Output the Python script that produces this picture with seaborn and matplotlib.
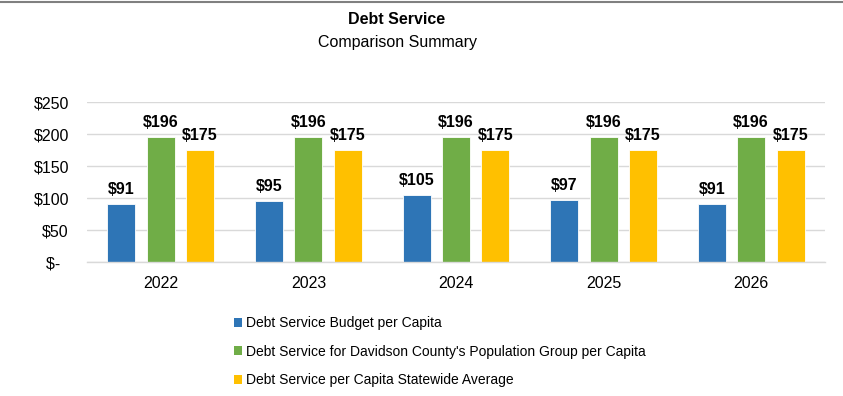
import matplotlib
matplotlib.use("Agg")
import matplotlib.pyplot as plt
import matplotlib.patches as mpatches
from matplotlib.lines import Line2D
import pandas as pd
import seaborn as sns

years = ["2022", "2023", "2024", "2025", "2026"]
series_names = [
    "Debt Service Budget per Capita",
    "Debt Service for Davidson County's Population Group per Capita",
    "Debt Service per Capita Statewide Average",
]
budget_per_capita = [91, 95, 105, 97, 91]
population_group = [196, 196, 196, 196, 196]
statewide_average = [175, 175, 175, 175, 175]
y_ticks = [0, 50, 100, 150, 200, 250]
y_tick_labels = ["$-  ", "$50", "$100", "$150", "$200", "$250"]
colors = ["#2E75B6", "#70AD47", "#FFC000"]

df = pd.DataFrame({
    "year": years * 3,
    "series": [series_names[0]] * 5 + [series_names[1]] * 5 + [series_names[2]] * 5,
    "value": budget_per_capita + population_group + statewide_average,
})

sns.set_theme(style="white")
plt.rcParams["font.family"] = ["Liberation Sans", "DejaVu Sans"]
plt.rcParams["text.color"] = "black"

fig = plt.figure(figsize=(8.43, 3.96), dpi=100)
ax = fig.add_axes([87 / 843, 1 - 262 / 396, (825 - 87) / 843, 160 / 396])

sns.barplot(data=df, x="year", y="value", hue="series", hue_order=series_names,
            palette=colors, width=0.8, gap=0.29, ax=ax, legend=False,
            edgecolor="white", linewidth=0.6, saturation=1)

for cont in ax.containers:
    vals = [b.get_height() for b in cont]
    ax.bar_label(cont, labels=[f"${v:.0f}" for v in vals], padding=5,
                 fontsize=11.5, fontweight="bold", color="black")

ax.set_ylim(0, 250)
ax.set_xlim(-0.5, 4.5)
ax.set_yticks(y_ticks)
ax.set_yticklabels(y_tick_labels)
ax.set_xlabel("")
ax.set_ylabel("")
ax.grid(axis="y", color="#D9D9D9", linewidth=1)
ax.set_axisbelow(True)
for side in ["top", "right", "left"]:
    ax.spines[side].set_visible(False)
ax.spines["bottom"].set_color("#D9D9D9")
ax.spines["bottom"].set_linewidth(1)
ax.tick_params(axis="both", length=0, labelsize=11.5, colors="black")
ax.tick_params(axis="y", pad=13)
ax.tick_params(axis="x", pad=10)

fig.text(397 / 843, 1 - 20 / 396, "Debt Service", ha="center", va="center",
         fontsize=11.5, fontweight="bold", color="black")
fig.text(397 / 843, 1 - 42 / 396, "Comparison Summary", ha="center", va="center",
         fontsize=11.5, color="black")

handles = [mpatches.Patch(facecolor=c, edgecolor="none") for c in colors]
fig.legend(handles, series_names, loc="upper left",
           bbox_to_anchor=(234 / 843, 1 - 316 / 396), frameon=False,
           fontsize=10, handlelength=0.6, handleheight=0.6,
           handletextpad=0.25, labelspacing=1.05, borderpad=0,
           borderaxespad=0, labelcolor="black")

fig.add_artist(Line2D([0, 1], [1 - 2 / 396, 1 - 2 / 396], color="#808080",
                      linewidth=1.5, transform=fig.transFigure))

fig.savefig("out.png", dpi=100)
